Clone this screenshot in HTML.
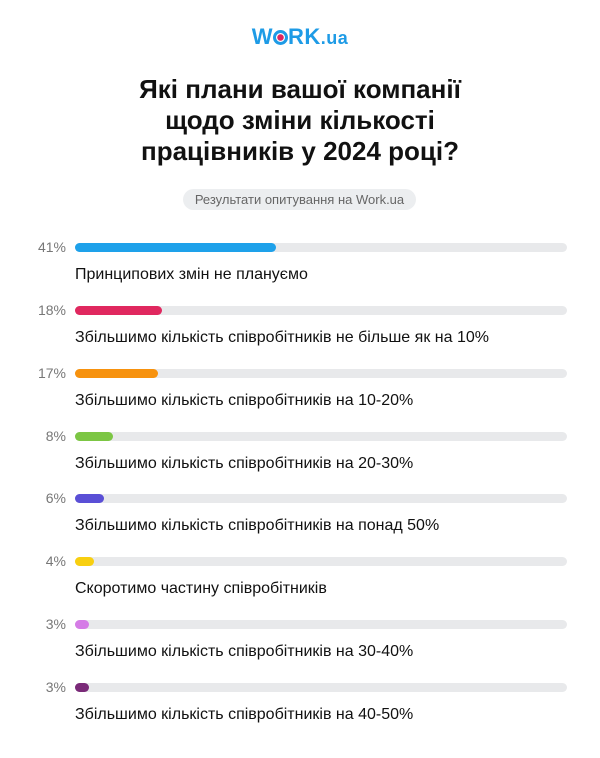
<!DOCTYPE html>
<html><head><meta charset="utf-8"><style>
body{margin:0;width:600px;height:758px;background:#fff;font-family:"Liberation Sans","DejaVu Sans",sans-serif;position:relative;overflow:hidden}
.logo{position:absolute;top:24px;left:0;width:600px;text-align:center;font-weight:bold;font-size:22px;color:#1e9be6;letter-spacing:0.5px}
.logo span{font-size:18px}
.title{position:absolute;top:74px;left:0;width:600px;text-align:center;font-weight:bold;font-size:26px;line-height:31px;color:#111}
.pill{position:absolute;top:189px;left:183px;width:233px;height:21px;border-radius:11px;background:#eceef0;color:#666;font-size:13px;line-height:21px;text-align:center}
.pct{position:absolute;left:20px;width:46px;text-align:right;font-size:14px;color:#777}
.track{position:absolute;left:75px;width:492px;height:9px;border-radius:5px;background:#e8e9eb}
.bar{position:absolute;left:0;top:0;height:9px;border-radius:5px}
.lab{position:absolute;left:75px;font-size:16px;color:#111}
</style></head><body>
<div class="logo">W<span style="display:inline-block;width:15px;height:15px;border-radius:50%;border:3px solid #1e9be6;box-sizing:border-box;vertical-align:-1px;position:relative;background:radial-gradient(circle,#e0245e 3px,transparent 3.5px)"></span>RK<span>.ua</span></div>
<div class="title">Які плани вашої компанії<br>щодо зміни кількості<br>працівників у 2024 році?</div>
<div class="pill">Результати опитування на Work.ua</div>

<div class="pct" style="top:239px">41%</div><div class="track" style="top:243px"><div class="bar" style="width:201px;background:#1ea1ea"></div></div><div class="lab" style="top:266px">Принципових змін не плануємо</div>
<div class="pct" style="top:302px">18%</div><div class="track" style="top:306px"><div class="bar" style="width:87px;background:#e0285f"></div></div><div class="lab" style="top:329px">Збільшимо кількість співробітників не більше як на 10%</div>
<div class="pct" style="top:365px">17%</div><div class="track" style="top:369px"><div class="bar" style="width:83px;background:#f7920e"></div></div><div class="lab" style="top:392px">Збільшимо кількість співробітників на 10-20%</div>
<div class="pct" style="top:428px">8%</div><div class="track" style="top:432px"><div class="bar" style="width:38px;background:#7cc644"></div></div><div class="lab" style="top:455px">Збільшимо кількість співробітників на 20-30%</div>
<div class="pct" style="top:490px">6%</div><div class="track" style="top:494px"><div class="bar" style="width:29px;background:#5a4fd6"></div></div><div class="lab" style="top:517px">Збільшимо кількість співробітників на понад 50%</div>
<div class="pct" style="top:553px">4%</div><div class="track" style="top:557px"><div class="bar" style="width:19px;background:#f8cf10"></div></div><div class="lab" style="top:580px">Скоротимо частину співробітників</div>
<div class="pct" style="top:616px">3%</div><div class="track" style="top:620px"><div class="bar" style="width:14px;background:#d57ce6"></div></div><div class="lab" style="top:643px">Збільшимо кількість співробітників на 30-40%</div>
<div class="pct" style="top:679px">3%</div><div class="track" style="top:683px"><div class="bar" style="width:14px;background:#7a2a78"></div></div><div class="lab" style="top:706px">Збільшимо кількість співробітників на 40-50%</div>
</body></html>
